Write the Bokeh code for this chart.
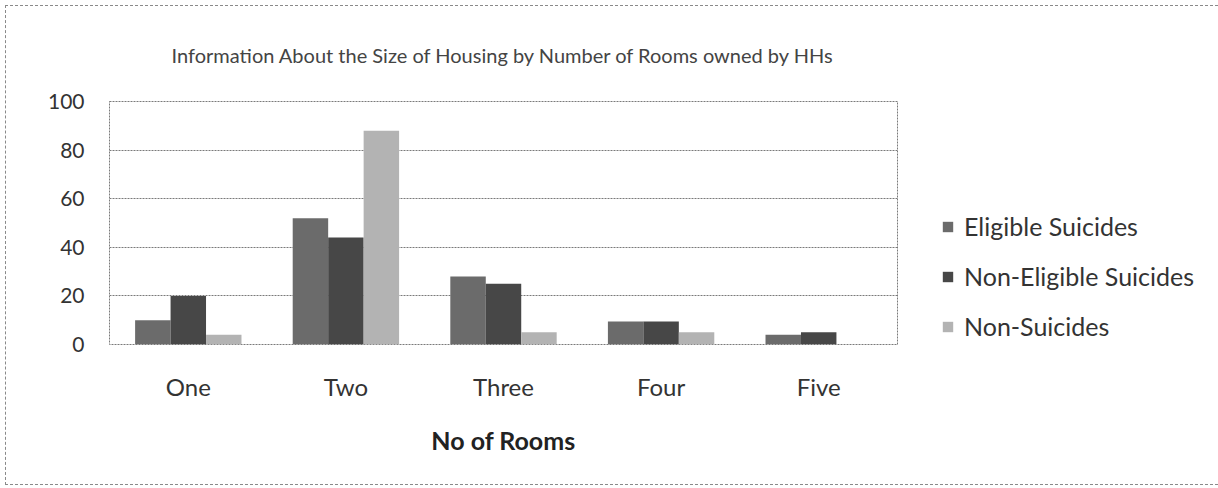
from bokeh.plotting import figure
from bokeh.models import ColumnDataSource, FactorRange, Legend, LegendItem, FixedTicker
from bokeh.transform import dodge
from bokeh.embed import file_html
from bokeh.resources import INLINE

rooms = ["One", "Two", "Three", "Four", "Five"]
eligible = [10, 52, 28, 9.5, 4]
non_eligible = [20, 44, 25, 9.5, 5]
non_suicides = [4, 88, 5, 5, 0]
series_names = ["Eligible Suicides", "Non-Eligible Suicides", "Non-Suicides"]
y_ticks = [0, 20, 40, 60, 80, 100]

src = ColumnDataSource(dict(rooms=rooms, e=eligible, n=non_eligible, s=non_suicides))

FONT = "Lato"
p = figure(x_range=FactorRange(*rooms, range_padding=0), y_range=(0, 100),
           frame_width=788, frame_height=243, output_backend="svg", toolbar_location=None,
           min_border_left=103, min_border_right=317, min_border_top=95, min_border_bottom=140)
p.styles = {"border": "1px dashed #8a8a8a", "box-sizing": "border-box",
            "margin-left": "5px", "margin-top": "5px"}

p.title.text = "Information About the Size of Housing by Number of Rooms owned by HHs"
p.title.align = "center"
p.title.text_font = FONT
p.title.text_font_size = "20px"
p.title.text_font_style = "normal"
p.title.text_color = "#444444"
p.title.standoff = 69

w = 0.225
r1 = p.vbar(x=dodge("rooms", -w, range=p.x_range), top="e", width=w, source=src,
            fill_color="#6b6b6b", line_color=None)
r2 = p.vbar(x=dodge("rooms", 0, range=p.x_range), top="n", width=w, source=src,
            fill_color="#474747", line_color=None)
r3 = p.vbar(x=dodge("rooms", w, range=p.x_range), top="s", width=w, source=src,
            fill_color="#b3b3b3", line_color=None)

p.xgrid.visible = False
p.ygrid.grid_line_color = "#7a7a7a"
p.ygrid.grid_line_dash = "2 1"
p.ygrid.grid_line_width = 1
p.yaxis.ticker = FixedTicker(ticks=y_ticks)

p.outline_line_color = "#7a7a7a"
p.outline_line_dash = "2 1"

for ax in (p.xaxis, p.yaxis):
    ax.axis_line_color = None
    ax.major_tick_line_color = None
    ax.minor_tick_line_color = None
    ax.major_label_text_font = FONT
    ax.major_label_text_color = "#333333"

p.xaxis.major_label_text_font_size = "24px"
p.yaxis.major_label_text_font_size = "21px"
p.yaxis.major_label_standoff = 19
p.xaxis.major_label_standoff = 21
p.xaxis.axis_label = "No of Rooms"
p.xaxis.axis_label_text_font = FONT
p.xaxis.axis_label_text_font_size = "25px"
p.xaxis.axis_label_text_font_style = "bold"
p.xaxis.axis_label_text_color = "#222222"
p.xaxis.axis_label_standoff = 21

legend = Legend(items=[LegendItem(label=series_names[0], renderers=[r1]),
                       LegendItem(label=series_names[1], renderers=[r2]),
                       LegendItem(label=series_names[2], renderers=[r3])],
                location=(44, 3), orientation="vertical",
                label_text_font=FONT, label_text_font_size="25px", label_text_color="#333333",
                glyph_width=13, glyph_height=13, label_standoff=10, spacing=20,
                label_height=30, padding=0, margin=0,
                border_line_color=None, background_fill_alpha=0)
p.add_layout(legend, "right")

open("out.html", "w").write(file_html(p, INLINE))
